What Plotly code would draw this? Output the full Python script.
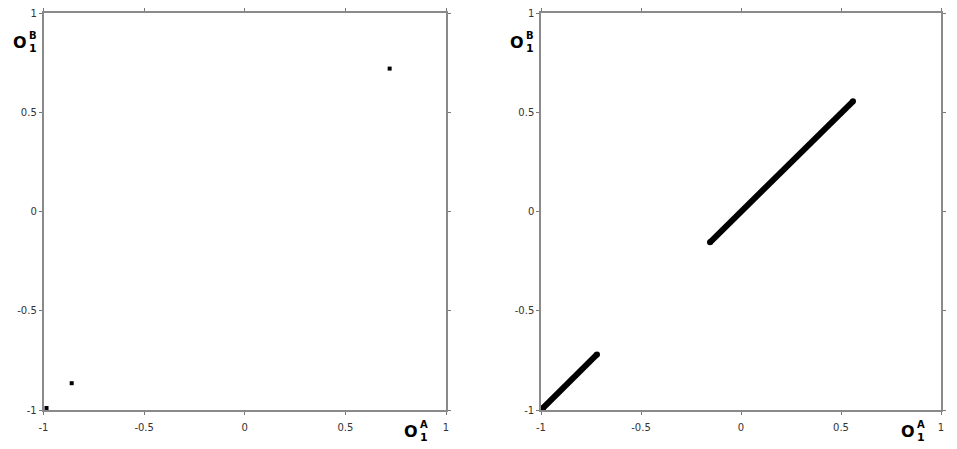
import plotly.graph_objects as go

W, H = 957, 449

# Left panel: isolated points (O1^A, O1^B)
left_x = [0.72, -0.86, -0.985]
left_y = [0.72, -0.865, -0.99]

# Right panel: two line segments (start/end values)
seg1_x = [-0.99, -0.72]
seg1_y = [-0.99, -0.72]
seg2_x = [-0.155, 0.56]
seg2_y = [-0.155, 0.555]

tick_vals = [-1, -0.5, 0, 0.5, 1]
tick_text = ["-1", "-0.5", "0", "0.5", "1"]

fig = go.Figure()

fig.add_trace(go.Scatter(x=left_x, y=left_y, mode="markers",
                         marker=dict(color="black", size=4, symbol="square"),
                         cliponaxis=False, showlegend=False, xaxis="x", yaxis="y"))
for sx, sy in [(seg1_x, seg1_y), (seg2_x, seg2_y)]:
    fig.add_trace(go.Scatter(x=sx, y=sy, mode="lines+markers",
                             line=dict(color="black", width=6),
                             marker=dict(color="black", size=6),
                             cliponaxis=False, showlegend=False, xaxis="x2", yaxis="y2"))

def px_x(p):
    return p / W

def px_y(p):
    return 1 - p / H

axis_common = dict(range=[-1, 1], tickvals=tick_vals, ticktext=tick_text,
                   showgrid=False, zeroline=False, showline=True, linecolor="#8a8a8a",
                   linewidth=1.5, mirror="allticks", ticks="outside", ticklen=3,
                   tickcolor="#777", tickwidth=1, automargin=False,
                   tickfont=dict(family="DejaVu Sans", size=10, color="#333"))

ydom = [px_y(410), px_y(13)]
fig.update_layout(
    width=W, height=H, margin=dict(l=0, r=0, t=0, b=0),
    paper_bgcolor="white", plot_bgcolor="white",
    xaxis=dict(domain=[px_x(43.5), px_x(446)], anchor="y", **axis_common),
    yaxis=dict(domain=ydom, anchor="x", **axis_common),
    xaxis2=dict(domain=[px_x(541), px_x(941)], anchor="y2", **axis_common),
    yaxis2=dict(domain=ydom, anchor="x2", **axis_common),
)
fig.update_xaxes(ticklabelstandoff=4)

def add_label(xo, yo, sup):
    # "O" with stacked superscript letter and subscript 1
    fig.add_annotation(x=px_x(xo), y=px_y(yo), xref="paper", yref="paper", text="<b>O</b>",
                       showarrow=False, xanchor="center", yanchor="middle",
                       font=dict(family="DejaVu Sans", size=16, color="black"))
    fig.add_annotation(x=px_x(xo + 7), y=px_y(yo - 6.5), xref="paper", yref="paper", text="<b>" + sup + "</b>",
                       showarrow=False, xanchor="left", yanchor="middle",
                       font=dict(family="DejaVu Sans", size=10, color="black"))
    fig.add_annotation(x=px_x(xo + 7), y=px_y(yo + 6.5), xref="paper", yref="paper", text="<b>1</b>",
                       showarrow=False, xanchor="left", yanchor="middle",
                       font=dict(family="DejaVu Sans", size=11, color="black"))

add_label(20, 42, "B")
add_label(517, 42, "B")
add_label(411, 431, "A")
add_label(908, 431, "A")

fig.write_html("out.html", config={"displayModeBar": False},
               post_script="document.body.style.margin='0';document.body.style.overflow='hidden';")
